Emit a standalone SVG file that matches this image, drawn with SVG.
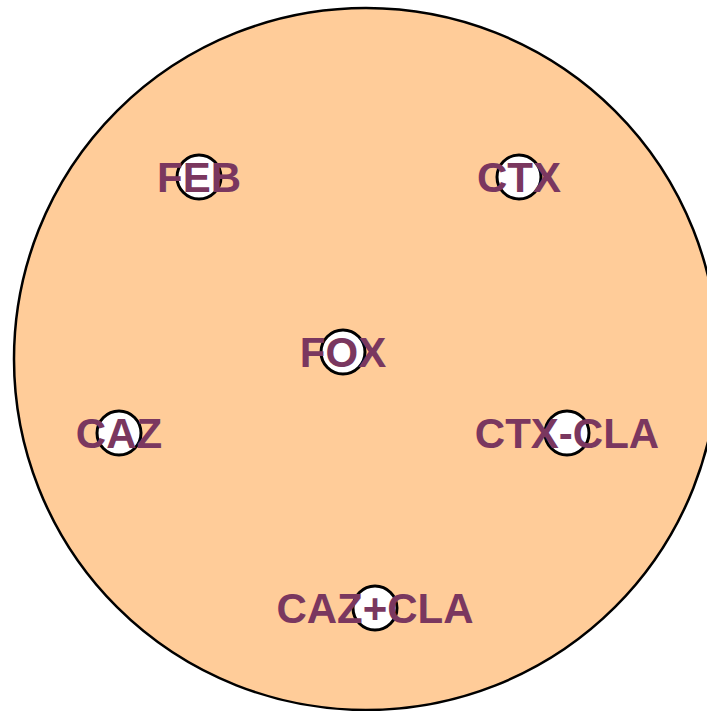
<svg xmlns="http://www.w3.org/2000/svg" width="707" height="711" viewBox="0 0 707 711">
  <style>
    .node circle { fill: #ffffff; stroke: #000000; stroke-width: 3; }
    .node text { font-family: "Liberation Sans", Arial, sans-serif; font-weight: bold; font-size: 42px; fill: #7a375f; text-anchor: middle; }
  </style>
  <rect width="707" height="711" fill="#ffffff"/>
  <!-- enclosing region -->
  <ellipse id="region" cx="366" cy="359" rx="352" ry="351" fill="#ffcc99" stroke="#000000" stroke-width="2.5"/>
  <g id="connectors"></g>
  <g id="FEB" class="node">
    <circle cx="199" cy="177" r="22"/>
    <text x="199" y="192">FEB</text>
  </g>
  <g id="CTX" class="node">
    <circle cx="519" cy="177" r="22"/>
    <text x="519" y="192">CTX</text>
  </g>
  <g id="FOX" class="node">
    <circle cx="343" cy="352" r="22"/>
    <text x="343" y="367">FOX</text>
  </g>
  <g id="CAZ" class="node">
    <circle cx="119" cy="433" r="22"/>
    <text x="119" y="448">CAZ</text>
  </g>
  <g id="CTX-CLA" class="node">
    <circle cx="567" cy="433" r="22"/>
    <text x="567" y="448">CTX-CLA</text>
  </g>
  <g id="CAZ-CLA" class="node">
    <circle cx="375" cy="608" r="22"/>
    <text x="375" y="623">CAZ+CLA</text>
  </g>
</svg>
